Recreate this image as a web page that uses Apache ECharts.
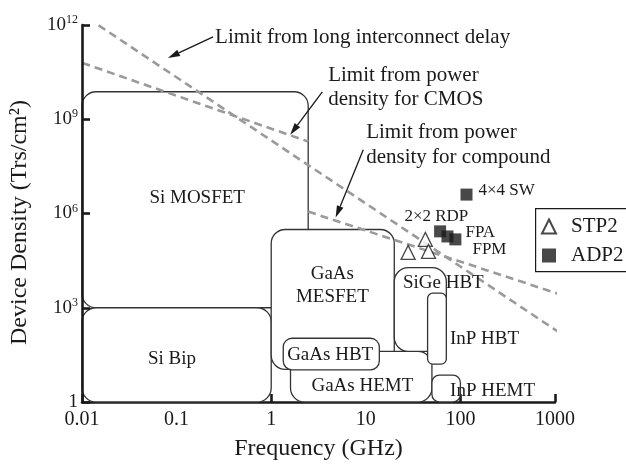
<!DOCTYPE html>
<html>
<head>
<meta charset="utf-8">
<title>Device density vs frequency</title>
<script src="https://cdn.jsdelivr.net/npm/echarts@6/dist/echarts.min.js"></script>
<style>
  html, body { margin: 0; padding: 0; background: #fff; }
  #chart { width: 626px; height: 466px; }
</style>
</head>
<body>
<div id="chart"></div>
<script>
// technology regions, frequency (GHz) and device density (Trs/cm2)
const boxNames = ['Si MOSFET', 'Si Bip', 'GaAs MESFET', 'GaAs HEMT', 'GaAs HBT', 'SiGe HBT', 'InP HBT', 'InP HEMT'];
const boxX0 = [0.01, 0.01, 1.0, 1.6, 1.34, 20, 45, 50];
const boxX1 = [2.46, 1.0, 20, 50, 13.9, 71, 71, 100];
const boxY0 = [1000, 1, 11, 1, 10.5, 41, 16, 1];
const boxY1 = [7.5e9, 1000, 3.1e5, 41, 107, 1.9e4, 2.9e3, 7.2];

// limit lines (end points)
const longX = [0.0115, 1100];
const longY = [1.66e12, 166];
const cmosX = [0.0101, 2.46];
const cmosY = [6.2e10, 1.95e8];
const compX = [2.46, 1290];
const compY = [1.15e6, 2340];

// measured circuits
const stpX = [42.6, 28, 46];
const stpY = [1.5e5, 5.8e4, 6.2e4];
const adpX = [116, 61, 73, 88.5];
const adpY = [4e6, 2.7e5, 1.86e5, 1.5e5];

// tick labels
const xTickLabels = { '-2': '0.01', '-1': '0.1', '0': '1', '1': '10', '2': '100', '3': '1000' };

// arrows (from text to line)
const arrowFromX = [0.243, 3.47, 9.4];
const arrowFromY = [4.2e11, 7.4e9, 1.07e8];
const arrowToX = [0.081, 1.59, 4.8];
const arrowToY = [8.9e10, 3.2e8, 7.4e5];

const FONT = '"Liberation Serif", "Times New Roman", serif';
const INK = '#1a1a1a';

const chart = echarts.init(document.getElementById('chart'));

function pairs(xs, ys) {
  return xs.map((x, i) => [x, ys[i]]);
}

const boxData = boxNames.map((n, i) => [boxX0[i], boxX1[i], boxY0[i], boxY1[i]]);

function renderBox(params, api) {
  const a = api.coord([api.value(0), api.value(3)]);
  const b = api.coord([api.value(1), api.value(2)]);
  const w = b[0] - a[0], h = b[1] - a[1];
  const r = Math.min(14, 0.28 * Math.min(w, h));
  return {
    type: 'rect',
    shape: { x: a[0], y: a[1], width: w, height: h, r: r },
    style: { fill: '#fff', stroke: '#333', lineWidth: 1.3 }
  };
}

function renderArrow(params, api) {
  const p = api.coord([api.value(0), api.value(1)]);
  const q = api.coord([api.value(2), api.value(3)]);
  const dx = q[0] - p[0], dy = q[1] - p[1];
  const len = Math.sqrt(dx * dx + dy * dy);
  const ux = dx / len, uy = dy / len;
  const hl = 12, hw = 3.5;
  const bx = q[0] - ux * hl, by = q[1] - uy * hl;
  return {
    type: 'group',
    children: [
      { type: 'line', shape: { x1: p[0], y1: p[1], x2: bx, y2: by }, style: { stroke: INK, lineWidth: 1.3 } },
      { type: 'polygon', shape: { points: [[q[0], q[1]], [bx - uy * hw, by + ux * hw], [bx + uy * hw, by - ux * hw]] }, style: { fill: INK } }
    ]
  };
}

function limitLine(name, xs, ys) {
  return {
    name: name, type: 'line', data: pairs(xs, ys), showSymbol: false, silent: true, z: 3,
    lineStyle: { color: '#9a9a9a', width: 2.6, type: [8, 5] }
  };
}

const option = {
  animation: false,
  backgroundColor: '#fff',
  grid: { left: 82, right: 71, top: 25, bottom: 63 },
  legend: {
    orient: 'vertical', left: 535, top: 208,
    data: ['STP2', 'ADP2'],
    padding: [8, 20, 6, 6], itemGap: 8,
    itemWidth: 14, itemHeight: 14,
    textStyle: { fontFamily: FONT, fontSize: 21, color: INK, padding: [0, 0, 0, 10] }
  },
  xAxis: {
    type: 'log', logBase: 10, min: 0.01, max: 1000, z: 0,
    name: 'Frequency (GHz)', nameLocation: 'middle', nameGap: 35,
    nameTextStyle: { fontFamily: FONT, fontSize: 24, color: INK },
    axisLine: { lineStyle: { color: INK, width: 2.6 } },
    axisTick: { inside: true, length: 8, lineStyle: { color: INK, width: 2.6 } },
    axisLabel: {
      margin: 8, fontFamily: FONT, fontSize: 20, color: INK,
      formatter: v => xTickLabels[String(Math.round(Math.log10(v)))]
    },
    splitLine: { show: false }
  },
  yAxis: {
    type: 'log', logBase: 10, min: 1, max: 1e12, interval: 3, z: 5,
    name: 'Device Density (Trs/cm²)', nameLocation: 'middle', nameGap: 50,
    nameTextStyle: { fontFamily: FONT, fontSize: 24, color: INK, padding: [0, 18, 0, 0] },
    axisLine: { lineStyle: { color: INK, width: 2.6 } },
    axisTick: { inside: true, length: 8, lineStyle: { color: INK, width: 2.6 } },
    axisLabel: {
      margin: 4, fontFamily: FONT, color: INK,
      formatter: v => {
        const e = Math.round(Math.log10(v));
        return e === 0 ? '{b|1}' : '{b|10}{s|' + e + '}';
      },
      rich: {
        b: { fontFamily: FONT, fontSize: 19, color: INK, lineHeight: 22, verticalAlign: 'middle' },
        s: { fontFamily: FONT, fontSize: 12, color: INK, lineHeight: 22, verticalAlign: 'top' }
      }
    },
    splitLine: { show: false }
  },
  series: [
    { name: 'regions', type: 'custom', renderItem: renderBox, data: boxData, silent: true, z: 2, clip: false },
    limitLine('long interconnect', longX, longY),
    limitLine('CMOS', cmosX, cmosY),
    limitLine('compound', compX, compY),
    {
      name: 'arrows', type: 'custom', renderItem: renderArrow, silent: true, z: 4,
      data: arrowFromX.map((x, i) => [x, arrowFromY[i], arrowToX[i], arrowToY[i]])
    },
    {
      name: 'STP2', type: 'scatter', data: pairs(stpX, stpY), symbol: 'triangle', symbolSize: 14, z: 5,
      itemStyle: { color: '#fff', borderColor: INK, borderWidth: 1.3 }
    },
    {
      name: 'ADP2', type: 'scatter', data: pairs(adpX, adpY), symbol: 'rect', symbolSize: 12, z: 5,
      itemStyle: { color: INK }
    }
  ]
};

chart.setOption(option);

// text annotations, anchored at data coordinates
const notes = [
  { text: 'Si MOSFET', at: [0.165, 3.0e6], size: 19 },
  { text: 'Si Bip', at: [0.0895, 23], size: 19 },
  { text: 'GaAs\nMESFET', at: [4.43, 5.1e3], size: 19, lh: 23 },
  { text: 'GaAs HBT', at: [4.2, 31], size: 19 },
  { text: 'GaAs HEMT', at: [9.2, 3.2], size: 19 },
  { text: 'SiGe HBT', at: [66, 6.0e3], size: 19 },
  { text: 'InP HBT', at: [180, 100], size: 19 },
  { text: 'InP HEMT', at: [219, 2.24], size: 19 },
  { text: '4×4 SW', at: [155, 5.4e6], size: 17, align: 'left' },
  { text: '2×2 RDP', at: [55.7, 7.9e5], size: 17 },
  { text: 'FPA', at: [113, 2.5e5], size: 17, align: 'left' },
  { text: 'FPM', at: [134, 7.2e4], size: 17, align: 'left' },
  { text: 'Limit from long interconnect delay', at: [0.255, 3.9e11], size: 21, align: 'left' },
  { text: 'Limit from power\ndensity for CMOS', at: [4.0, 1.0e10], size: 21, align: 'left', lh: 24 },
  { text: 'Limit from power\ndensity for compound', at: [10.1, 1.55e8], size: 21, align: 'left', lh: 25 }
];

const graphics = notes.map(n => {
  const p = chart.convertToPixel({ gridIndex: 0 }, n.at);
  return {
    type: 'text', x: p[0], y: p[1], z: 10, silent: true,
    style: {
      text: n.text, fill: INK, font: n.size + 'px ' + FONT,
      align: n.align || 'center', verticalAlign: 'middle', lineHeight: n.lh || n.size + 2
    }
  };
});
// legend frame, runs off the right edge as in the source figure
graphics.push({
  type: 'rect', left: 535, top: 208, z: -1, silent: true,
  shape: { width: 140, height: 63 },
  style: { fill: '#fff', stroke: INK, lineWidth: 1.2 }
});

chart.setOption({ graphic: graphics });
</script>
</body>
</html>
